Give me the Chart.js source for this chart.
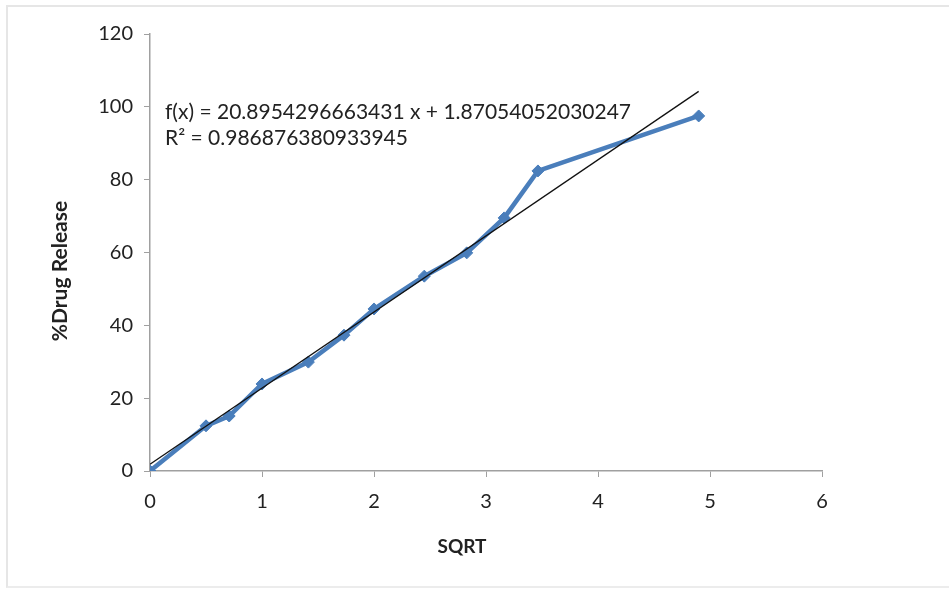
<!DOCTYPE html>
<html>
<head>
<meta charset="utf-8">
<script src="https://cdn.jsdelivr.net/npm/chart.js@4.4.0/dist/chart.umd.min.js"></script>
<style>
  body { margin: 0; background: #fff; }
  #wrap { position: relative; width: 949px; height: 590px; }
  #frame { position: absolute; left: 6px; top: 5px; right: 0; bottom: 2px;
           border-left: 2px solid #e6e6e6; border-top: 2px solid #e6e6e6; border-bottom: 2px solid #ececec; }
  canvas { position: absolute; left: 0; top: 0; }
</style>
</head>
<body>
<div id="wrap">
  <div id="frame"></div>
  <canvas id="myChart" width="949" height="590"></canvas>
</div>
<script>
// square root of time vs cumulative release
var sqrtTime = [0, 0.5, 0.707, 1, 1.414, 1.732, 2, 2.449, 2.828, 3.162, 3.464, 4.899];
var drugRelease = [0, 12.4, 15.1, 23.9, 29.9, 37.3, 44.5, 53.5, 59.9, 69.5, 82.4, 97.5];

// trendline as reported on the chart
var slope = 20.8954296663431;
var intercept = 1.87054052030247;
var rSquared = '0.986876380933945';

var xTicks = [0, 1, 2, 3, 4, 5, 6];
var yTicks = [0, 20, 40, 60, 80, 100, 120];

var xMin = sqrtTime[0], xMax = sqrtTime[sqrtTime.length - 1];
var trendPoints = [
    { x: xMin, y: slope * xMin + intercept },
    { x: xMax, y: slope * xMax + intercept }
];

var blue = '#4a7ebb';
var axisGray = '#a0a0a0';
var font = 'Lato, "Open Sans", sans-serif';

var extraText = {
    id: 'extraText',
    afterDatasetsDraw: function(chart) {
        var c = chart.ctx, a = chart.chartArea;
        c.save();
        c.fillStyle = '#222';
        c.font = '21px ' + font;
        c.textBaseline = 'alphabetic';
        c.fillText('f(x) = ' + slope + ' x + ' + intercept, a.left + 15, a.top + 85);
        c.fillText('R² = ' + rSquared, a.left + 15, a.top + 111);

        // axis titles sit a little off the plot middle, like the original
        c.font = 'bold 19px ' + font;
        c.textAlign = 'center';
        c.textBaseline = 'middle';
        c.fillText('SQRT', 462, 547);

        c.translate(60, 271);
        c.rotate(-Math.PI / 2);
        c.font = 'bold 21px ' + font;
        c.fillText('%Drug Release', 0, 0);
        c.restore();
    }
};

var ctx = document.getElementById('myChart');
var myChart = new Chart(ctx, {
    type: 'scatter',
    data: {
        datasets: [{
            data: sqrtTime.map(function(x, i) { return { x: x, y: drugRelease[i] }; }),
            showLine: true,
            borderColor: blue,
            backgroundColor: blue,
            borderWidth: 4.5,
            pointStyle: 'rectRot',
            pointRadius: 6,
            pointBorderWidth: 1,
            tension: 0,
            order: 2
        }, {
            data: trendPoints,
            showLine: true,
            borderColor: '#111',
            borderWidth: 1.3,
            pointRadius: 0,
            order: 1
        }]
    },
    options: {
        responsive: false,
        animation: false,
        layout: { padding: { left: 0, top: 34, right: 127, bottom: 20 } },
        plugins: {
            legend: { display: false },
            tooltip: { enabled: false }
        },
        scales: {
            x: {
                type: 'linear',
                min: 0, max: 6,
                afterBuildTicks: function(s) { s.ticks = xTicks.map(function(v) { return { value: v }; }); },
                afterFit: function(s) { s.height = 99; },
                grid: { drawOnChartArea: false, tickLength: 6, color: axisGray },
                border: { color: axisGray, width: 1.5 },
                ticks: { color: '#222', font: { family: font, size: 20 }, padding: 13 }
            },
            y: {
                min: 0, max: 120,
                afterBuildTicks: function(s) { s.ticks = yTicks.map(function(v) { return { value: v }; }); },
                afterFit: function(s) { s.width = 150; },
                grid: { drawOnChartArea: false, tickLength: 6, color: axisGray },
                border: { color: axisGray, width: 1.5 },
                ticks: { color: '#222', font: { family: font, size: 20 }, padding: 11 }
            }
        }
    },
    plugins: [extraText]
});
</script>
</body>
</html>
